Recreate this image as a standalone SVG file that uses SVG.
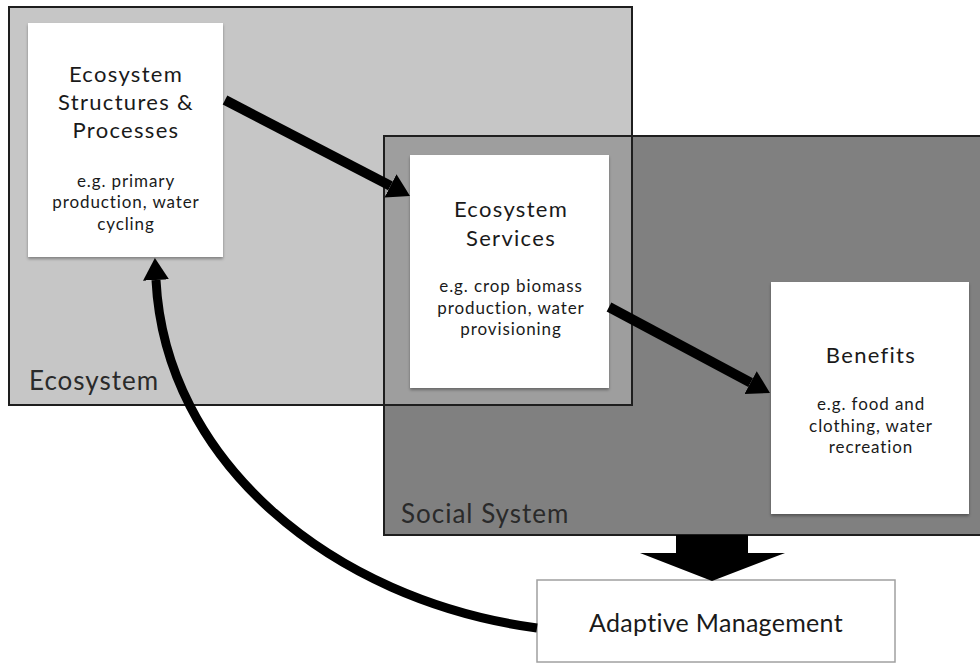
<svg xmlns="http://www.w3.org/2000/svg" width="980" height="663" viewBox="0 0 980 663">
<style>
  .title { font-family: Lato, "Open Sans", sans-serif; font-size: 22px; letter-spacing: 1.3px; fill: #1a1a1a; text-anchor: middle; }
  .sub { font-family: Lato, "Open Sans", sans-serif; font-size: 17px; letter-spacing: 0.9px; fill: #1a1a1a; text-anchor: middle; }
  .region { font-family: Lato, "Open Sans", sans-serif; font-size: 26px; letter-spacing: 1px; fill: #2a2a2a; }
  .card { fill: #ffffff; filter: url(#shadow); }
  .frame { fill: none; stroke: #1e1e1e; stroke-width: 2; }
  .conn { fill: none; stroke: #000; }
</style>
<defs>
  <filter id="shadow" x="-10%" y="-10%" width="120%" height="120%">
    <feDropShadow dx="0" dy="2" stdDeviation="1.5" flood-color="#000" flood-opacity="0.35"/>
  </filter>
  <marker id="head" markerUnits="userSpaceOnUse" markerWidth="24" markerHeight="28" refX="0" refY="13" orient="auto" viewBox="0 0 24 26">
    <path d="M0,0 L22,13 L0,26 z" fill="#000"/>
  </marker>
</defs>
<rect width="980" height="663" fill="#fff"/>
<g id="ecosystem-region">
  <rect x="9" y="7" width="623" height="398" fill="#c6c6c6"/>
</g>
<g id="social-region">
  <rect x="384" y="136" width="610" height="399" fill="#808080"/>
</g>
<rect x="384" y="136" width="248" height="269" fill="#9e9e9e"/>
<rect class="frame" x="9" y="7" width="623" height="398"/>
<rect class="frame" x="384" y="136" width="610" height="399"/>
<text class="region" x="29" y="390">Ecosystem</text>
<text class="region" x="401" y="523">Social System</text>

<g id="structures">
  <rect class="card" x="28" y="23" width="195" height="234"/>
  <text class="title" x="126" y="82">Ecosystem</text>
  <text class="title" x="126" y="110">Structures &amp;</text>
  <text class="title" x="126" y="138">Processes</text>
  <text class="sub" x="126" y="187">e.g. primary</text>
  <text class="sub" x="126" y="208">production, water</text>
  <text class="sub" x="126" y="230">cycling</text>
</g>
<g id="services">
  <rect class="card" x="410" y="155" width="199" height="233"/>
  <text class="title" x="511" y="217">Ecosystem</text>
  <text class="title" x="511" y="246">Services</text>
  <text class="sub" x="511" y="292">e.g. crop biomass</text>
  <text class="sub" x="511" y="314">production, water</text>
  <text class="sub" x="511" y="335">provisioning</text>
</g>
<g id="benefits">
  <rect class="card" x="771" y="282" width="198" height="232"/>
  <text class="title" x="871" y="363">Benefits</text>
  <text class="sub" x="871" y="410">e.g. food and</text>
  <text class="sub" x="871" y="432">clothing, water</text>
  <text class="sub" x="871" y="453">recreation</text>
</g>
<g id="adaptive">
  <rect x="537" y="580" width="358" height="82" fill="#fff" stroke="#a0a0a0" stroke-width="1.5"/>
  <text x="716" y="632" style="font-family: Lato, 'Open Sans', sans-serif; font-size: 25px; letter-spacing: 0.3px; fill:#1a1a1a; text-anchor: middle;">Adaptive Management</text>
</g>
<g id="connectors">
  <path class="conn" d="M225,100 L390.5,185.9" stroke-width="10" marker-end="url(#head)"/>
  <path class="conn" d="M609,307 L750.6,382.6" stroke-width="10" marker-end="url(#head)"/>
  <path class="conn" d="M537,628 C330,600 165,460 156,280" stroke-width="9" marker-end="url(#head)"/>
  <polygon points="676,535 748,535 748,553 785,553 712,581 640,553 676,553" fill="#000"/>
</g>
</svg>
